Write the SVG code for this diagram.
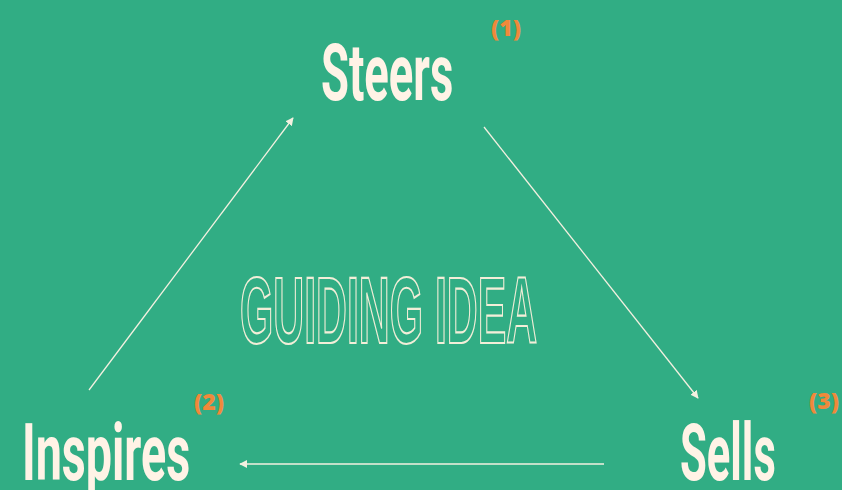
<svg xmlns="http://www.w3.org/2000/svg" width="842" height="490" viewBox="0 0 842 490">
<defs>
<style>
.lbl{font-family:Roboto,"Liberation Sans",sans-serif;font-weight:700;font-size:80px;fill:#FFF3E6;}
.num{font-family:"Open Sans","Liberation Sans",sans-serif;font-weight:800;font-size:23px;fill:#F0893A;}
.big{font-family:"Liberation Sans",Arial,sans-serif;font-weight:700;font-size:94px;fill:none;stroke:#F3EED8;stroke-width:1.7;vector-effect:non-scaling-stroke;}
.conn{stroke:#F3F0E0;stroke-width:1.3;fill:none;marker-end:url(#ah);}
</style>
<marker id="ah" viewBox="0 0 10 10" refX="9" refY="5" markerWidth="8" markerHeight="8" markerUnits="userSpaceOnUse" orient="auto">
<path d="M0,0 L10,5 L0,10 z" fill="#F3F0E0"/>
</marker>
</defs>
<rect width="842" height="490" fill="#31AD84"/>
<g id="connectors">
<line class="conn" x1="89" y1="390" x2="293" y2="118"/>
<line class="conn" x1="484" y1="127" x2="698" y2="398"/>
<line class="conn" x1="604" y1="464" x2="240" y2="464"/>
</g>
<g id="center">
<text class="big" transform="translate(240,343) scale(0.455,1)" x="0" y="0" textLength="653" lengthAdjust="spacingAndGlyphs">GUIDING IDEA</text>
</g>
<g id="steers">
<text class="lbl" transform="translate(321,100) scale(0.58,1)" x="0" y="0" textLength="228" lengthAdjust="spacingAndGlyphs">Steers</text>
<text class="num" x="491" y="36">(1)</text>
</g>
<g id="inspires">
<text class="lbl" transform="translate(22,480) scale(0.58,1)" x="0" y="0" textLength="290" lengthAdjust="spacingAndGlyphs">Inspires</text>
<text class="num" x="194" y="410">(2)</text>
</g>
<g id="sells">
<text class="lbl" transform="translate(680,480) scale(0.56,1)" x="0" y="0" textLength="171" lengthAdjust="spacingAndGlyphs">Sells</text>
<text class="num" x="809" y="409">(3)</text>
</g>
</svg>
